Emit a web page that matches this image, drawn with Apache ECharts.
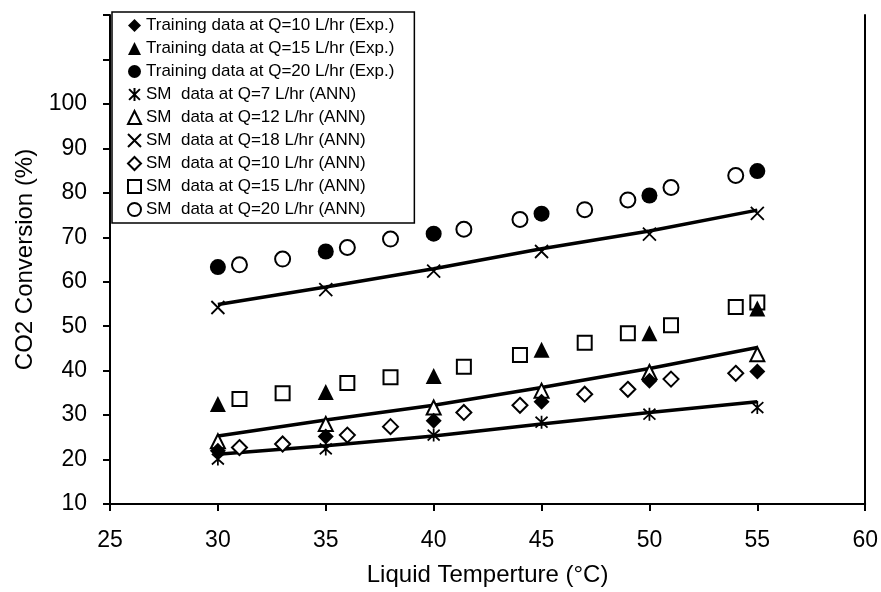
<!DOCTYPE html>
<html>
<head>
<meta charset="utf-8">
<script src="https://cdn.jsdelivr.net/npm/echarts@6/dist/echarts.min.js"></script>
<style>
html,body{margin:0;padding:0;background:#fff;}
#chart{width:881px;height:592px;}
</style>
</head>
<body>
<div id="chart"></div>
<script>
// ---- data ----
const expX = [30, 35, 40, 45, 50, 55];
const expQ10 = [22.0, 25.2, 28.7, 33.0, 37.7, 39.8];
const expQ15 = [32.5, 35.2, 38.8, 44.7, 48.4, 54.0];
const expQ20 = [63.3, 66.8, 70.8, 75.3, 79.4, 84.9];

const annX6 = [30, 35, 40, 45, 50, 55];
const annQ7 = [20.1, 22.4, 25.5, 28.4, 30.2, 31.7];
const annQ12 = [24.1, 28.0, 31.7, 35.5, 39.7, 43.7];
const annQ18 = [54.2, 58.2, 62.4, 66.8, 70.7, 75.4];

const annX10 = [31, 33, 36, 38, 41.4, 44, 47, 49, 51, 54];
const annQ10 = [22.7, 23.5, 25.5, 27.4, 30.6, 32.2, 34.7, 35.8, 38.1, 39.4];
const annX15 = [31, 33, 36, 38, 41.4, 44, 47, 49, 51, 54, 55];
const annQ15 = [33.6, 34.9, 37.2, 38.5, 40.9, 43.5, 46.3, 48.4, 50.2, 54.3, 55.3];
const annX20 = [31, 33, 36, 38, 41.4, 44, 47, 49, 51, 54];
const annQ20 = [63.8, 65.1, 67.7, 69.6, 71.8, 74.0, 76.2, 78.4, 81.2, 83.9];

const lineX = [30, 35, 40, 45, 50, 55];
const lineQ7 = [21.2, 23.1, 25.3, 28.0, 30.6, 33.0];
const lineQ12 = [25.3, 28.9, 32.2, 36.2, 40.5, 45.2];
const lineQ18 = [54.9, 58.8, 62.9, 67.4, 71.4, 76.1];

const xTicks = [25, 30, 35, 40, 45, 50, 55, 60];
const yTicks = [10, 20, 30, 40, 50, 60, 70, 80, 90, 100];

const names = [
  'Training data at Q=10 L/hr (Exp.)',
  'Training data at Q=15 L/hr (Exp.)',
  'Training data at Q=20 L/hr (Exp.)',
  'SM  data at Q=7 L/hr (ANN)',
  'SM  data at Q=12 L/hr (ANN)',
  'SM  data at Q=18 L/hr (ANN)',
  'SM  data at Q=10 L/hr (ANN)',
  'SM  data at Q=15 L/hr (ANN)',
  'SM  data at Q=20 L/hr (ANN)'
];

// ---- helpers ----
const zip = (xs, ys) => xs.map((x, i) => [x, ys[i]]);
const FONT = '"Liberation Sans", Arial, sans-serif';
const filled = { color: '#000', borderColor: '#000', borderWidth: 0, opacity: 1 };
const open = { color: '#fff', borderColor: '#000', borderWidth: 2, opacity: 1 };
const stroke = { color: '#000', borderColor: '#000', borderWidth: 1.8, opacity: 1 };
const xPath = 'path://M0,0L10,10M10,0L0,10';
const starPath = 'path://M0,1L10,11M10,1L0,11M5,0L5,12';

function scatter(name, xs, ys, symbol, size, style, z) {
  return { name, type: 'scatter', data: zip(xs, ys), symbol, symbolSize: size,
    itemStyle: style, z, emphasis: { disabled: true } };
}
function line(xs, ys) {
  return { type: 'line', data: zip(xs, ys), showSymbol: false, symbol: 'none',
    lineStyle: { color: '#000', width: 3.5 }, z: 3, silent: true };
}

const chart = echarts.init(document.getElementById('chart'), null, { renderer: 'canvas' });
const option = {
  animation: false,
  backgroundColor: '#fff',
  grid: { left: 110, right: 15, top: 15, bottom: 87, containLabel: false },
  xAxis: {
    type: 'value', min: xTicks[0], max: xTicks[xTicks.length - 1], interval: 5,
    name: 'Liquid Temperture (°C)', nameLocation: 'middle', nameGap: 59,
    nameTextStyle: { fontFamily: FONT, fontSize: 24, color: '#000' },
    axisLine: { lineStyle: { color: '#000', width: 2 } },
    axisTick: { show: true, length: 7, inside: false, lineStyle: { color: '#000', width: 2 } },
    axisLabel: { fontFamily: FONT, fontSize: 23, color: '#000', margin: 25 },
    splitLine: { show: false }
  },
  yAxis: [{
    type: 'value', min: yTicks[0], max: 120, interval: 10,
    name: 'CO2 Conversion (%)', nameLocation: 'middle', nameGap: 73, nameRotate: 90,
    nameTextStyle: { fontFamily: FONT, fontSize: 24, color: '#000' },
    axisLine: { show: true, lineStyle: { color: '#000', width: 2 } },
    axisTick: { show: true, length: 7, lineStyle: { color: '#000', width: 2 } },
    axisLabel: { fontFamily: FONT, fontSize: 23, color: '#000', margin: 23,
      formatter: v => (yTicks.indexOf(v) >= 0 ? String(v) : '') },
    splitLine: { show: false }
  }, {
    type: 'value', position: 'right', min: yTicks[0], max: 120, interval: 10,
    axisLine: { show: true, lineStyle: { color: '#000', width: 2 } },
    axisTick: { show: false }, axisLabel: { show: false }, splitLine: { show: false }
  }],
  legend: {
    data: names, orient: 'vertical', left: 112, top: 12,
    backgroundColor: '#fff', borderColor: '#000', borderWidth: 1.5, borderRadius: 0,
    padding: [5, 20, 5, 15], itemGap: 6, itemWidth: 13, itemHeight: 13,
    textStyle: { fontFamily: FONT, fontSize: 17, color: '#000' },
    selectedMode: false
  },
  series: [
    line(lineX, lineQ7),
    line(lineX, lineQ12),
    line(lineX, lineQ18),
    scatter(names[3], annX6, annQ7, starPath, [12, 13], stroke, 4),
    scatter(names[4], annX6, annQ12, 'triangle', 14, open, 4),
    scatter(names[5], annX6, annQ18, xPath, 13, stroke, 4),
    scatter(names[6], annX10, annQ10, 'diamond', 15, open, 4),
    scatter(names[7], annX15, annQ15, 'rect', 14, open, 4),
    scatter(names[8], annX20, annQ20, 'circle', 15, open, 4),
    scatter(names[0], expX, expQ10, 'diamond', 16, filled, 5),
    scatter(names[1], expX, expQ15, 'triangle', 16, filled, 5),
    scatter(names[2], expX, expQ20, 'circle', 16, filled, 5)
  ]
};
chart.setOption(option);
</script>
</body>
</html>
